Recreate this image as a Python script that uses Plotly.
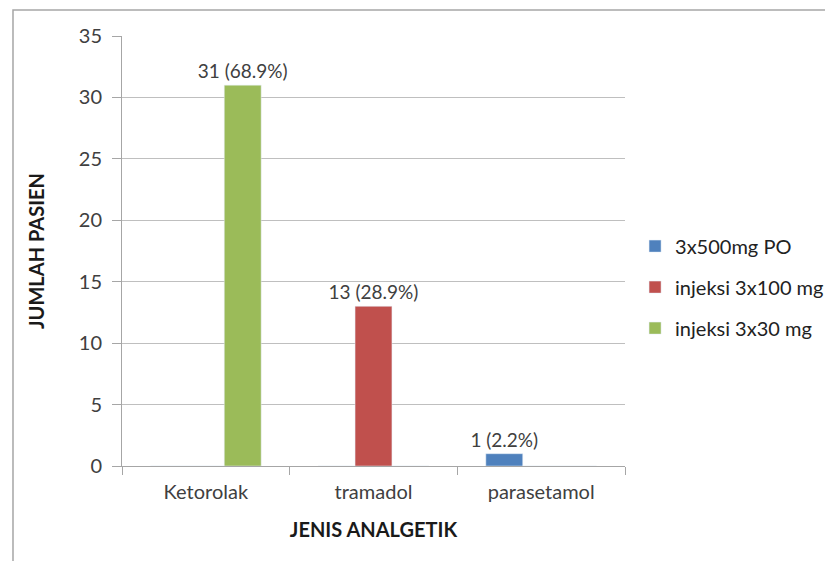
import plotly.graph_objects as go

categories = ["Ketorolak", "tramadol", "parasetamol"]
series_names = ["3x500mg PO", "injeksi 3x100 mg", "injeksi 3x30 mg"]
po_500 = [0, 0, 1]
inj_100 = [0, 13, 0]
inj_30 = [31, 0, 0]
po_500_text = ["", "", "1 (2.2%)"]
inj_100_text = ["", "13 (28.9%)", ""]
inj_30_text = ["31 (68.9%)", "", ""]
colors = ["#4f81bd", "#c0504d", "#9bbb59"]
y_ticks = [0, 5, 10, 15, 20, 25, 30, 35]

font_family = "Lato, 'Open Sans', sans-serif"
text_color = "#404040"

fig = go.Figure()
for i, (name, vals, txt) in enumerate(zip(series_names, [po_500, inj_100, inj_30],
                                          [po_500_text, inj_100_text, inj_30_text])):
    fig.add_trace(go.Bar(
        x=categories, y=vals, name=name, marker_color=colors[i],
        text=txt, textposition="outside", cliponaxis=False, constraintext="none",
        textfont=dict(size=19, color=text_color, family=font_family),
        legendgroup=f"g{i}",
    ))

fig.update_layout(
    width=833, height=561,
    margin=dict(l=114, r=216, t=28, b=103),
    paper_bgcolor="white", plot_bgcolor="white",
    barmode="group", bargap=0.34, bargroupgap=0,
    font=dict(family=font_family, size=17, color=text_color),
    showlegend=True,
    legend=dict(x=1.02, y=0.416, yanchor="middle", xanchor="left",
                font=dict(size=20, color="#222222"), tracegroupgap=12,
                bgcolor="rgba(0,0,0,0)"),
    xaxis=dict(
        type="category", showline=True, linecolor="#a6a6a6", linewidth=1,
        ticks="outside", ticklen=8, tickcolor="#a6a6a6", tickson="boundaries",
        ticklabelstandoff=8,
        tickfont=dict(size=20, color=text_color),
        title=dict(text="<b>JENIS ANALGETIK</b>", font=dict(size=20, color="#1a1a1a"), standoff=20),
    ),
    yaxis=dict(
        range=[0, 35], tickvals=y_ticks, showgrid=True, gridcolor="#bfbfbf",
        showline=True, linecolor="#a6a6a6", linewidth=1,
        ticks="outside", ticklen=9, tickcolor="#a6a6a6",
        ticklabelstandoff=6,
        tickfont=dict(size=20, color=text_color), zeroline=False,
        title=dict(text="<b>JUMLAH PASIEN</b>", font=dict(size=20, color="#1a1a1a"), standoff=28),
    ),
)
fig.add_shape(type="rect", xref="paper", yref="paper",
              x0=-0.2167, x1=1.5, y0=-0.4, y1=1.0605,
              line=dict(color="#a6a6a6", width=1.5), layer="below")

fig.write_html("out.html")
